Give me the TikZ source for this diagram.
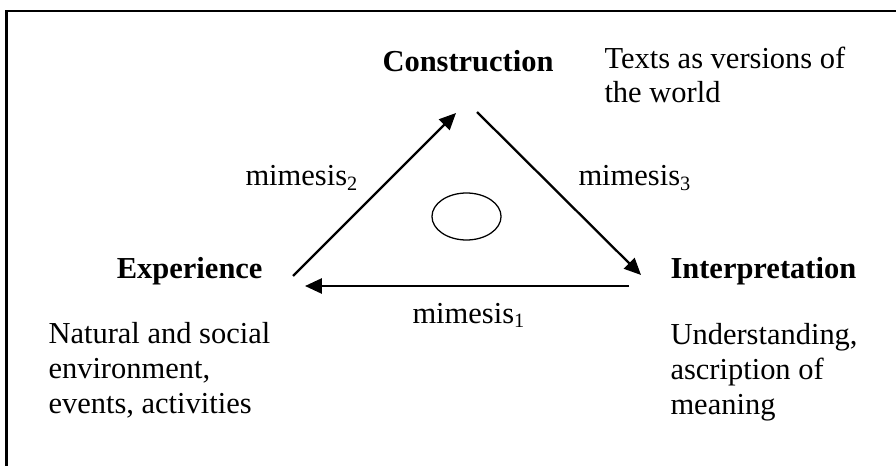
\documentclass[tikz,border=0pt]{standalone}
\usepackage{fontspec}
\setmainfont{Liberation Serif}
\usetikzlibrary{arrows.meta, shapes.geometric}

\begin{document}
\begin{tikzpicture}[x=0.3937pt, y=-0.3937pt,
    font=\fontsize{12}{13.6}\selectfont,
    lbl/.style={inner sep=0pt, anchor=base west},
    pole/.style={lbl, font=\fontsize{12}{13.6}\selectfont\bfseries},
    note/.style={lbl, align=left},
    flow/.style={line width=0.9pt, -{Triangle[length=6.6pt, width=5.9pt]}}]
  \useasboundingbox (0,0) rectangle (896,466);
  \draw[line width=0.8pt] (900,11) -- (6.5,11) -- (6.5,470);
  % the three poles
  \node[pole] (construction) at (382,72) {Construction};
  \node[pole, anchor=base east] (experience) at (263,278) {Experience};
  \node[pole] (interpretation) at (670,278) {Interpretation};
  % notes beside the poles (base = last line)
  \node[note] (texts) at (604,103) {Texts as versions of\\the world};
  \node[note] (environment) at (48,413) {Natural and social\\environment,\\events, activities};
  \node[note] (meaning) at (670,414) {Understanding,\\ascription of\\meaning};
  % ends of the arrows
  \coordinate (exp-out) at (293,276);
  \coordinate (con-in) at (456,113);
  \coordinate (con-out) at (477,112);
  \coordinate (int-in) at (641,275);
  \coordinate (int-out) at (629,286);
  \coordinate (exp-in) at (305,286);
  \draw[flow] (exp-out) -- (con-in);
  \draw[flow] (con-out) -- (int-in);
  \draw[flow] (int-out) -- (exp-in);
  \node[lbl] (mimesis2) at (245,186) {mimesis\textsubscript{2}};
  \node[lbl] (mimesis3) at (578,186) {mimesis\textsubscript{3}};
  \node[lbl] (mimesis1) at (412,323) {mimesis\textsubscript{1}};
  \node[ellipse, draw, line width=0.5pt, inner sep=0pt,
        minimum width=27.2pt, minimum height=18.5pt] (centre) at (466.5,216.5) {};
\end{tikzpicture}
\end{document}
